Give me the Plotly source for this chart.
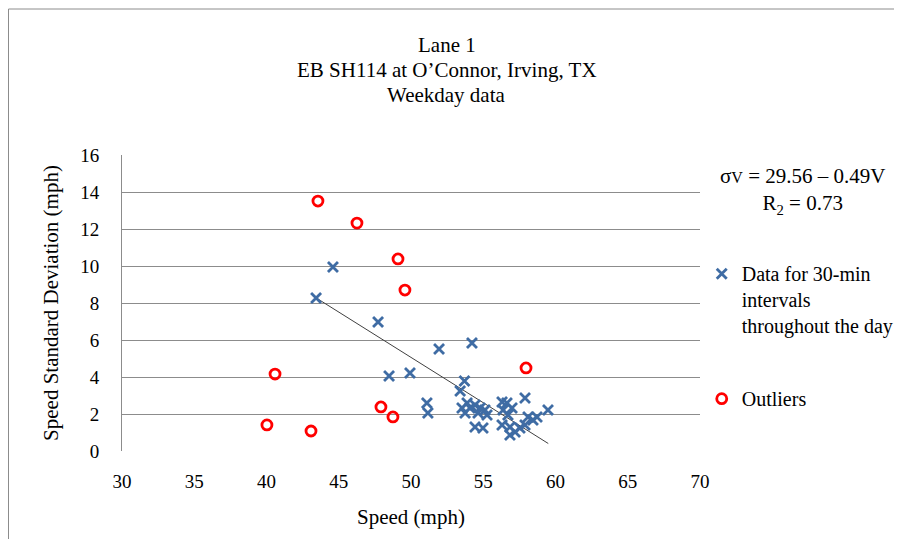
import plotly.graph_objects as go

# Data for 30-min intervals (speed mph, std dev mph)
data_speed = [44.6, 43.43, 47.72, 48.48, 49.93, 51.94, 54.22, 51.1, 51.17, 53.7, 53.4,
              53.53, 53.88, 54.08, 54.43, 54.78, 55.12, 54.64, 55.26, 54.43, 54.98, 53.74,
              57.89, 56.30, 56.64, 56.99, 56.37, 56.71, 59.48, 58.72, 58.10, 58.44,
              56.30, 56.85, 57.20, 57.54, 57.89, 56.85]
data_sd = [9.95, 8.27, 6.97, 4.05, 4.22, 5.51, 5.84, 2.6, 2.05, 3.78, 3.24,
           2.32, 2.59, 2.32, 2.49, 2.32, 2.22, 2.05, 1.95, 1.30, 1.24, 2.05,
           2.86, 2.65, 2.59, 2.32, 2.22, 1.95, 2.22, 1.84, 1.84, 1.68,
           1.41, 1.30, 1.03, 1.24, 1.41, 0.86]

# Outliers
out_speed = [43.56, 46.26, 49.1, 49.58, 40.59, 40.03, 43.08, 47.92, 48.75, 57.96]
out_sd = [13.51, 12.32, 10.38, 8.70, 4.16, 1.41, 1.08, 2.38, 1.84, 4.49]

# Regression: sigma_v = 29.56 - 0.49 V
intercept = 29.56
slope = -0.49
trend_x = [43.43, 59.5]
trend_y = [intercept + slope * v for v in trend_x]

x_ticks = [30, 35, 40, 45, 50, 55, 60, 65, 70]
y_ticks = [0, 2, 4, 6, 8, 10, 12, 14, 16]

title_lines = ["Lane 1", "EB SH114 at O’Connor, Irving, TX", "Weekday data"]

FONT = "Liberation Serif"

fig = go.Figure()
fig.add_trace(go.Scatter(
    x=trend_x, y=trend_y, mode="lines",
    line=dict(color="#404040", width=1), showlegend=False, hoverinfo="skip"))
fig.add_trace(go.Scatter(
    x=data_speed, y=data_sd, mode="markers",
    name="Data for 30-min<br>intervals<br>throughout the day",
    legendgroup="a",
    marker=dict(symbol="x-thin", size=10, line=dict(color="#3F6CA4", width=2.8),
                color="#3F6CA4")))
fig.add_trace(go.Scatter(
    x=out_speed, y=out_sd, mode="markers", name="Outliers",
    legendgroup="b",
    marker=dict(symbol="circle-open", size=10, color="#FF0000",
                line=dict(color="#FF0000", width=2.8))))

annotations = []
for i, line in enumerate(title_lines):
    annotations.append(dict(
        text=line, xref="paper", yref="paper", x=0.562,
        y=(451 - 45 - 25 * i) / 296, xanchor="center", yanchor="middle",
        showarrow=False, font=dict(family=FONT, size=21, color="black")))
annotations.append(dict(
    text="σ<span style='font-size:16px'>V</span> = 29.56 – 0.49V<br>R<sub>2</sub> = 0.73",
    xref="paper", yref="paper", x=1.178, y=0.975, xanchor="center",
    yanchor="top", showarrow=False, align="center",
    font=dict(family=FONT, size=21, color="black")))

fig.update_layout(
    width=894, height=531,
    margin=dict(l=114, r=202, t=147, b=88, autoexpand=False),
    paper_bgcolor="white", plot_bgcolor="white",
    font=dict(family=FONT, size=19, color="black"),
    showlegend=True,
    legend=dict(x=1.003, y=0.665, xanchor="left", yanchor="top",
                valign="top", tracegroupgap=44,
                font=dict(family=FONT, size=20, color="black"),
                bgcolor="rgba(0,0,0,0)"),
    xaxis=dict(range=[30, 70], tickvals=x_ticks, showgrid=False, zeroline=False,
               showline=False, ticks="", ticklabelstandoff=17,
               tickfont=dict(family=FONT, size=19, color="black"),
               title=dict(text="Speed (mph)", standoff=18,
                          font=dict(family=FONT, size=21, color="black"))),
    yaxis=dict(range=[0, 16], tickvals=y_ticks, showgrid=True,
               gridcolor="#8C8C8C", gridwidth=1, zeroline=False,
               showline=True, linecolor="#8C8C8C", linewidth=1,
               ticks="", ticklabelstandoff=18,
               tickfont=dict(family=FONT, size=19, color="black"),
               title=dict(text="Speed Standard Deviation (mph)", standoff=15,
                          font=dict(family=FONT, size=21, color="black"))),
    annotations=annotations,
    shapes=[
        dict(type="rect", xref="paper", yref="paper",
             x0=(8.5 - 122) / 578, x1=(940 - 122) / 578,
             y0=(451 - 570) / 296, y1=(451 - 9) / 296,
             line=dict(color="#8C8C8C", width=1), layer="below"),
    ],
)

fig.write_html("out.html")
